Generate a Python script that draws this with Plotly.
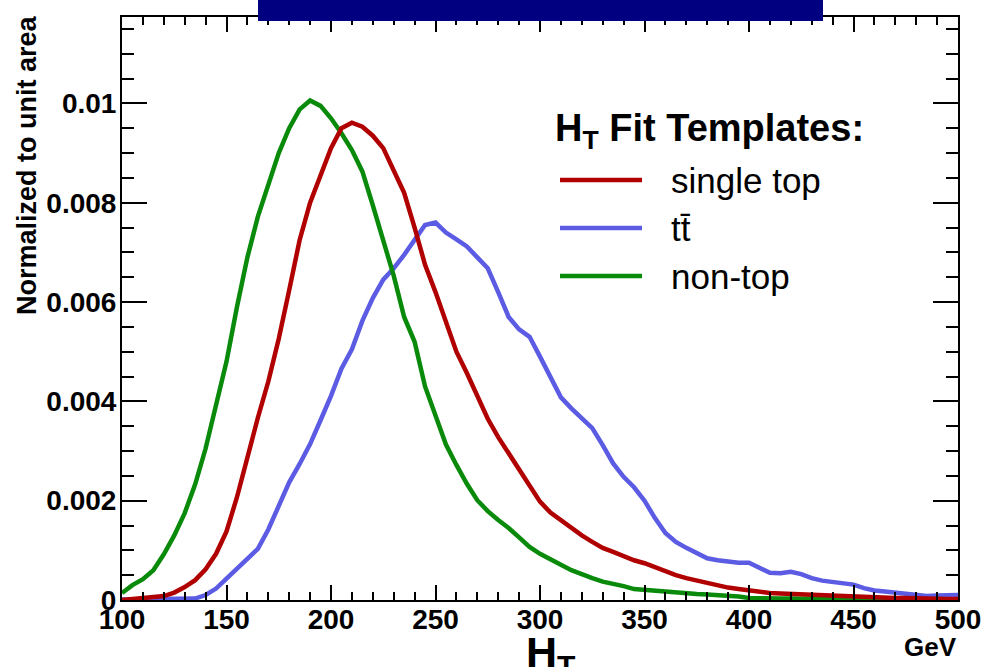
import plotly.graph_objects as go

# H_T bin centres (GeV)
ht = [100 + 5 * i for i in range(81)]

# Normalized templates, one value per 5 GeV step
single_top = [
    0.0, 0.00002, 0.00003, 0.00005, 0.00008, 0.00015, 0.00026, 0.0004, 0.00062, 0.00093,
    0.00138, 0.00207, 0.0029, 0.00367, 0.0044, 0.00526, 0.00624, 0.00725, 0.008, 0.00858,
    0.0091, 0.0095, 0.00961, 0.00953, 0.00935, 0.0091, 0.00865, 0.0082, 0.0075, 0.00675,
    0.0062, 0.0056, 0.005, 0.00457, 0.0041, 0.00365, 0.00328, 0.00296, 0.00262, 0.0023,
    0.00198, 0.00176, 0.0016, 0.00145, 0.0013, 0.00117, 0.00105, 0.00097, 0.00088, 0.0008,
    0.00074, 0.00066, 0.00056, 0.0005, 0.00044, 0.00039, 0.00034, 0.00029, 0.00025, 0.00022,
    0.00019, 0.00016, 0.00014, 0.00013, 0.00012, 0.00011, 0.00011, 0.0001, 0.0001, 0.00009,
    0.00008, 0.00007, 0.00006, 0.00005, 0.00004, 0.00004, 0.00003, 0.00003, 0.00002, 0.00002,
    0.00002,
]
ttbar = [
    0.00001, 0.00001, 0.00001, 0.00001, 0.00001, 0.00002, 0.00002, 0.00003, 0.0001, 0.00023,
    0.00043, 0.00062, 0.00081, 0.00103, 0.00142, 0.00192, 0.00237, 0.00274, 0.00314, 0.00362,
    0.00411, 0.00466, 0.00505, 0.00562, 0.00608, 0.00645, 0.00668, 0.00695, 0.00725, 0.00755,
    0.0076, 0.0074, 0.00726, 0.00712, 0.0069, 0.00668, 0.0062, 0.0057, 0.00545, 0.0053,
    0.0049, 0.00448, 0.00408, 0.00386, 0.00366, 0.00346, 0.00312, 0.00275, 0.00248, 0.00227,
    0.002, 0.00165, 0.00135, 0.00117, 0.00105, 0.00094, 0.00084, 0.0008, 0.00077, 0.00075,
    0.00075, 0.00066, 0.00055, 0.00054, 0.00057, 0.00052, 0.00044, 0.00039, 0.00036, 0.00035,
    0.00031, 0.00024, 0.00019, 0.00017, 0.00015, 0.00013, 0.00011, 0.00008, 0.00009, 0.0001,
    0.0001,
]
non_top = [
    0.00014, 0.0003, 0.00042, 0.0006, 0.00092, 0.0013, 0.00175, 0.00233, 0.00305, 0.00393,
    0.0048, 0.0059, 0.0069, 0.00772, 0.00836, 0.009, 0.0095, 0.00988, 0.01006, 0.00995,
    0.0097, 0.0094, 0.00906, 0.00863, 0.00795, 0.00727, 0.00653, 0.0057, 0.0052, 0.0043,
    0.00372, 0.00313, 0.00272, 0.00234, 0.00201, 0.00179, 0.00161, 0.00145, 0.00126, 0.00107,
    0.00093, 0.00083, 0.00071, 0.0006, 0.00051, 0.00044, 0.00037, 0.00033, 0.00028, 0.00022,
    0.0002, 0.00019, 0.00018, 0.00016, 0.00013, 0.00012, 0.00011, 0.0001, 0.0001, 0.00007,
    0.00004, 0.00003, 0.00003, 0.00003, 0.00003, 0.00002, 0.00002, 0.00002, 0.00002, 0.00002,
    0.00002, 0.00002, 0.00002, 0.00001, 0.00001, 0.00001, 0.00001, 0.00001, 0.00001, 0.00001,
    0.00001,
]

y_tick_vals = [0, 0.002, 0.004, 0.006, 0.008, 0.01]
y_tick_text = ["0", "0.002", "0.004", "0.006", "0.008", "0.01"]
x_tick_vals = [100, 150, 200, 250, 300, 350, 400, 450, 500]

colors = {"single top": "#b00000", "tt\u0304": "#5b5be3", "non-top": "#0a8a0a"}

W, H = 983, 667
L, R, T, B = 122, 25, 17, 67
PW, PH = W - L - R, H - T - B


def px(xp):
    return (xp - L) / PW


def py(yp):
    return (T + PH - yp) / PH


fig = go.Figure()
for name, vals in [("tt\u0304", ttbar), ("non-top", non_top), ("single top", single_top)]:
    fig.add_trace(go.Scatter(
        x=ht, y=vals, mode="lines", name=name,
        line=dict(color=colors[name], width=4.5),
        showlegend=False,
    ))

bold = dict(family="Liberation Sans", color="black", weight="bold")

fig.update_layout(
    width=W, height=H,
    margin=dict(l=L, r=R, t=T, b=B, autoexpand=False),
    paper_bgcolor="white", plot_bgcolor="white",
    xaxis=dict(
        range=[100, 500], tickvals=x_tick_vals, ticks="inside", ticklen=15,
        tickwidth=2, tickcolor="black", showline=True, linecolor="black",
        linewidth=2, mirror="allticks", showgrid=False, zeroline=False,
        automargin=False, ticklabelstandoff=-7,
        tickfont=dict(size=28, **bold),
        minor=dict(dtick=10, ticks="inside", ticklen=8, tickwidth=2,
                   tickcolor="black", showgrid=False),
    ),
    yaxis=dict(
        range=[0, 0.01174], tickvals=y_tick_vals, ticktext=y_tick_text,
        ticks="inside", ticklen=25, tickwidth=2, tickcolor="black",
        showline=True, linecolor="black", linewidth=2, mirror="allticks",
        showgrid=False, zeroline=False, automargin=False,
        ticklabelstandoff=-2,
        tickfont=dict(size=28, **bold),
        minor=dict(dtick=0.0005, ticks="inside", ticklen=12, tickwidth=2,
                   tickcolor="black", showgrid=False),
    ),
)

# banner bar above the frame
fig.add_shape(type="rect", xref="paper", yref="paper",
              x0=px(258), x1=px(823), y0=py(21), y1=py(-2),
              fillcolor="#000080", line=dict(width=0), layer="above")

annotations = [
    dict(text="<b>Normalized to unit area</b>", x=px(27), y=py(13),
         xanchor="center", yanchor="top", textangle=-90,
         font=dict(size=27, **bold)),
    dict(text="<b>H<sub>T</sub></b>", x=px(524), y=py(626),
         xanchor="left", yanchor="top", font=dict(size=43, **bold)),
    dict(text="<b>GeV</b>", x=px(959), y=py(630),
         xanchor="right", yanchor="top", font=dict(size=26, **bold)),
    dict(text="<b>H<sub>T</sub> Fit Templates:</b>", x=px(553), y=py(131),
         xanchor="left", yanchor="middle", font=dict(size=38, **bold)),
]

legend_rows = [("single top", 180), ("tt\u0304", 228), ("non-top", 276)]
for name, yrow in legend_rows:
    fig.add_shape(type="line", xref="paper", yref="paper",
                  x0=px(560), x1=px(642), y0=py(yrow), y1=py(yrow),
                  line=dict(color=colors[name], width=4.5))
    annotations.append(dict(
        text=name, x=px(669), y=py(yrow), xanchor="left", yanchor="middle",
        font=dict(family="Liberation Sans", size=35, color="black")))

for a in annotations:
    a.update(xref="paper", yref="paper", showarrow=False)
fig.update_layout(annotations=annotations)

fig.write_html("out.html")
